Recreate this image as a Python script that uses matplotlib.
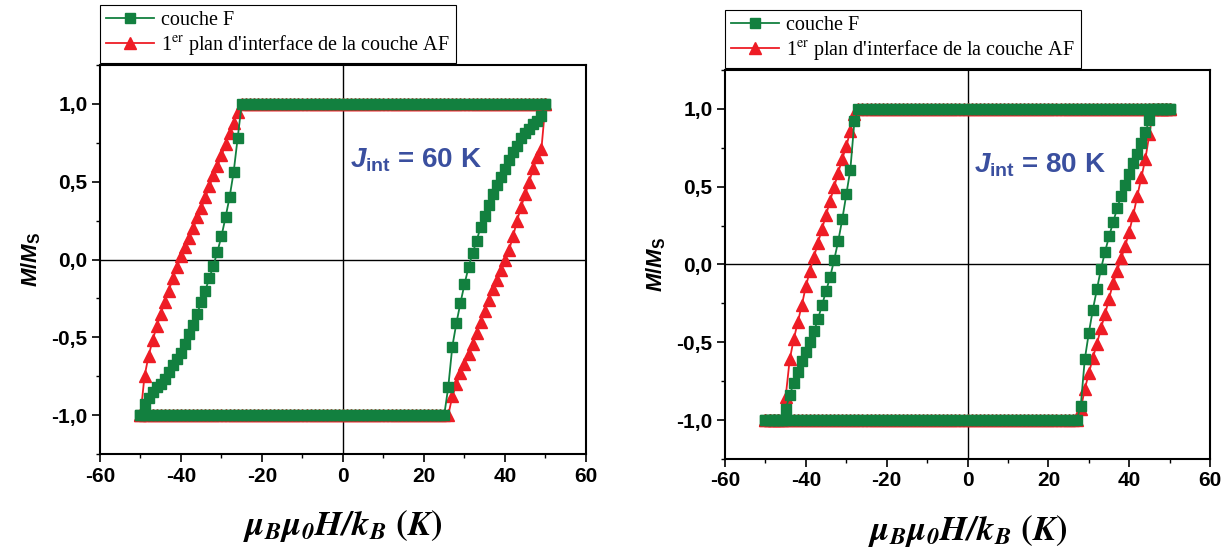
import numpy as np
import matplotlib.pyplot as plt
from matplotlib.ticker import MultipleLocator

plt.rcParams['mathtext.fontset'] = 'stix'
plt.rcParams['mathtext.rm'] = 'Liberation Sans:bold'
plt.rcParams['mathtext.it'] = 'Liberation Sans:bold:italic'
plt.rcParams['mathtext.bf'] = 'Liberation Sans:bold'

# field sweep (K): descending branch 50 -> -50, ascending branch -50 -> 50
h_down = np.arange(50, -51, -1)
h_up = np.arange(-50, 51, 1)

# J_int = 60 K
f60_down = [1.0] * 76 + [0.78, 0.56, 0.40, 0.27, 0.15, 0.05, -0.04, -0.12, -0.20, -0.27,
                         -0.35, -0.42, -0.48, -0.54, -0.60, -0.64, -0.68, -0.72, -0.77,
                         -0.80, -0.82, -0.85, -0.89, -0.93, -1.0]
f60_up = [-1.0] * 76 + [-0.82, -0.56, -0.41, -0.28, -0.16, -0.05, 0.04, 0.12, 0.21, 0.28,
                        0.35, 0.42, 0.48, 0.53, 0.58, 0.64, 0.69, 0.73, 0.78, 0.81,
                        0.84, 0.87, 0.89, 0.92, 1.0]
af60_down = [1.0] * 76 + [0.95, 0.88, 0.81, 0.74, 0.67, 0.60, 0.54, 0.47, 0.40, 0.33,
                          0.27, 0.20, 0.14, 0.08, 0.02, -0.05, -0.12, -0.20, -0.27,
                          -0.35, -0.43, -0.52, -0.62, -0.75, -1.0]
af60_up = [-1.0] * 77 + [-0.88, -0.80, -0.73, -0.67, -0.61, -0.54, -0.47, -0.40, -0.33,
                         -0.26, -0.19, -0.13, -0.07, 0.0, 0.06, 0.15, 0.25, 0.34,
                         0.42, 0.50, 0.59, 0.66, 0.71, 1.0]

# J_int = 80 K
f80_down = [1.0] * 78 + [0.92, 0.61, 0.45, 0.29, 0.15, 0.03, -0.08, -0.17, -0.26, -0.35,
                         -0.43, -0.50, -0.56, -0.62, -0.69, -0.76, -0.84, -0.93] + [-1.0] * 5
f80_up = [-1.0] * 78 + [-0.91, -0.61, -0.44, -0.29, -0.16, -0.03, 0.08, 0.18, 0.27, 0.36,
                        0.44, 0.51, 0.58, 0.65, 0.71, 0.78, 0.85, 0.93] + [1.0] * 5
af80_down = [1.0] * 78 + [0.97, 0.86, 0.76, 0.68, 0.59, 0.50, 0.41, 0.32, 0.23, 0.14,
                          0.05, -0.04, -0.14, -0.26, -0.37, -0.48, -0.61, -0.85] + [-1.0] * 5
af80_up = [-1.0] * 78 + [-0.93, -0.80, -0.70, -0.60, -0.51, -0.41, -0.32, -0.22, -0.12,
                         -0.04, 0.04, 0.12, 0.21, 0.32, 0.44, 0.56, 0.68, 0.84] + [1.0] * 5

xticks = [-60, -40, -20, 0, 20, 40, 60]
yticks = [-1.0, -0.5, 0.0, 0.5, 1.0]
ytick_labels = ['-1,0', '-0,5', '0,0', '0,5', '1,0']

GREEN = '#12803f'
RED = '#ee1c25'
BLUE = '#3a4f9f'


def draw_panel(ax, f_down, f_up, af_down, af_up, jint, leg_anchor):
    h = np.concatenate([h_down, h_up])
    ax.axhline(0, color='black', lw=1.0, zorder=1)
    ax.axvline(0, color='black', lw=1.0, zorder=1)
    ax.plot(h, np.concatenate([af_down, af_up]), '-^', color=RED, ms=8.5, lw=1.3,
            mec=RED, zorder=2, label="1$^{\\rm er}$ plan d'interface de la couche AF")
    ax.plot(h, np.concatenate([f_down, f_up]), '-s', color=GREEN, ms=7.5, lw=1.3,
            mec=GREEN, zorder=3, label='couche F')

    ax.set_xlim(-60, 60)
    ax.set_ylim(-1.25, 1.25)
    ax.set_xticks(xticks)
    ax.set_xticklabels([str(t) for t in xticks])
    ax.set_yticks(yticks)
    ax.set_yticklabels(ytick_labels)
    ax.xaxis.set_minor_locator(MultipleLocator(10))
    ax.yaxis.set_minor_locator(MultipleLocator(0.25))
    ax.tick_params(which='major', direction='out', length=6, width=1.2, labelsize=15, pad=3)
    ax.tick_params(which='minor', direction='out', length=3, width=1.0)
    for lab in ax.get_xticklabels() + ax.get_yticklabels():
        lab.set_fontweight('bold')
        lab.set_family('Liberation Sans')
    for sp in ax.spines.values():
        sp.set_linewidth(1.5)

    ax.set_xlabel(r'$\mathbfit{\mu_B\mu_0H/k_B}\ \mathbf{(}\mathbfit{K}\mathbf{)}$',
                  fontsize=25, math_fontfamily='stix', labelpad=16)
    ax.set_ylabel(r'$M/M_{\rm S}$', fontsize=16, math_fontfamily='custom', labelpad=6)
    ax.text(1.7, 0.64, r'$J_{\rm int}$' + f' = {jint} K', color=BLUE, fontsize=20,
            fontweight='bold', family='Liberation Sans', math_fontfamily='custom',
            va='center', ha='left')

    handles, labels = ax.get_legend_handles_labels()
    ax.legend(handles[::-1], labels[::-1], loc='upper left', bbox_to_anchor=leg_anchor,
              bbox_transform=ax.figure.transFigure, borderaxespad=0, fancybox=False,
              edgecolor='black', framealpha=1, handlelength=2.4, borderpad=0.3,
              labelspacing=0.15, handletextpad=0.35,
              prop={'family': 'Liberation Serif', 'size': 14.5},
              ).get_frame().set_linewidth(0.8)


fig = plt.figure(figsize=(12.31, 5.49), dpi=100)
ax1 = fig.add_axes([0.0812, 0.173, 0.3948, 0.7086])
ax2 = fig.add_axes([0.589, 0.164, 0.394, 0.7086])

draw_panel(ax1, f60_down, f60_up, af60_down, af60_up, 60, (0.0812, 0.991))
draw_panel(ax2, f80_down, f80_up, af80_down, af80_up, 80, (0.589, 0.982))

fig.savefig('out.png', dpi=100)
